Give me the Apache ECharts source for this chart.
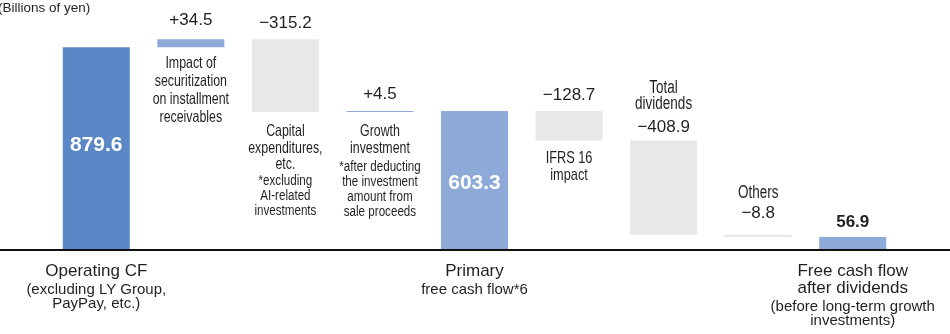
<!DOCTYPE html>
<html>
<head>
<meta charset="utf-8">
<script src="https://cdn.jsdelivr.net/npm/echarts@6/dist/echarts.min.js"></script>
<style>
  html, body { margin: 0; padding: 0; background: #fff; }
  #chart { width: 950px; height: 334px; }
</style>
</head>
<body>
<div id="chart"></div>
<script>
// Cash flow bridge, billions of yen
const categories = [
  'Operating CF',
  'Impact of securitization on installment receivables',
  'Capital expenditures, etc.',
  'Growth investment',
  'Primary free cash flow',
  'IFRS 16 impact',
  'Total dividends',
  'Others',
  'Free cash flow after dividends'
];
const values = [879.6, 34.5, -315.2, 4.5, 603.3, -128.7, -408.9, -8.8, 56.9];
const isTotal = [true, false, false, false, true, false, false, false, true];

// text drawn under a step bar
const descBelow = ['', 'Impact of\nsecuritization\non installment\nreceivables', 'Capital\nexpenditures,\netc.', 'Growth\ninvestment', '', 'IFRS 16\nimpact', '', '', ''];
const notesBelow = ['', '', '*excluding\nAI-related\ninvestments', '*after deducting\nthe investment\namount from\nsale proceeds', '', '', '', '', ''];
// text drawn above the value of a step bar
const descAbove = ['', '', '', '', '', '', 'Total\ndividends', 'Others', ''];
// category captions under the axis
const axisNames = ['Operating CF', '', '', '', 'Primary', '', '', '', 'Free cash flow\nafter dividends'];
const axisNotes = ['(excluding LY Group,\nPayPay, etc.)', '', '', '', 'free cash flow*6', '', '', '', '(before long-term growth\ninvestments)'];

const unitText = '(Billions of yen)';

const REG = "'Liberation Sans', Arial, sans-serif";
const INK = '#231f20';
const DARK_BLUE = '#5b87c6';
const LIGHT_BLUE = '#8eaad9';
const GREY = '#e8e8e8';
const NARROW_SCALE = 0.75;   // horizontal squeeze for the condensed annotation text

// waterfall: invisible base + visible step
const baseVals = [], stepVals = [];
let running = 0;
values.forEach((v, i) => {
  if (isTotal[i]) { baseVals.push(0); stepVals.push(v); running = v; }
  else if (v >= 0) { baseVals.push(running); stepVals.push(v); running += v; }
  else { running += v; baseVals.push(running); stepVals.push(-v); }
});

function valueText(i) {
  const v = values[i];
  if (isTotal[i]) return v.toFixed(1);
  return (v > 0 ? '+' : '\u2212') + Math.abs(v).toFixed(1);
}

const valueRich = {
  v: { fontFamily: REG, fontSize: 17, color: INK, lineHeight: 22 },
  big: { fontFamily: REG, fontSize: 21, fontWeight: 'bold', color: '#fff' },
  bold: { fontFamily: REG, fontSize: 17, fontWeight: 'bold', color: INK }
};

const aboveDistance = [0, 8, 5, 6, 0, 5, 2, 10.5, 6];

const stepData = stepVals.map((val, i) => {
  const total = isTotal[i];
  let color;
  if (i === 0) color = DARK_BLUE;
  else if (total || values[i] > 0) color = LIGHT_BLUE;
  else color = GREY;
  let label;
  if (total && i < categories.length - 1) {
    label = { show: true, position: 'inside', formatter: '{big|' + valueText(i) + '}', rich: valueRich,
              offset: [0, i === 0 ? -3 : 3] };
  } else if (total) {
    label = { show: true, position: 'top', distance: aboveDistance[i], formatter: '{bold|' + valueText(i) + '}', rich: valueRich };
  } else {
    label = { show: true, position: 'top', distance: aboveDistance[i], formatter: '{v|' + valueText(i) + '}', rich: valueRich };
  }
  return { value: val, itemStyle: { color }, label };
});

// condensed annotation styles (zrender rich text)
const noteRich = {
  d: { fontFamily: REG, fontSize: 16.5, fill: INK, lineHeight: 16.5 },
  d1: { fontFamily: REG, fontSize: 16.5, fill: INK, lineHeight: 18 },
  di: { fontFamily: REG, fontSize: 17, fill: INK, lineHeight: 17 },
  da: { fontFamily: REG, fontSize: 18, fill: INK, lineHeight: 16.5 },
  g: { fontFamily: REG, fontSize: 1, lineHeight: 2.5 },
  n: { fontFamily: REG, fontSize: 15.5, fill: INK, lineHeight: 15 }
};
const belowStyle = ['', 'd1', 'd', 'd', '', 'di', '', '', ''];
const noteSpacer = [false, false, false, true, false, false, false, false, false];
const belowGap = [0, 7, 11.5, 11.5, 0, 9, 0, 0, 0];
const aboveGap = [0, 0, 0, 0, 0, 0, 28, 33.5, 0];

function renderNotes(params, api) {
  const i = api.value(0);
  const bottom = api.coord([i, api.value(1)]);
  const top = api.coord([i, api.value(2)]);
  const children = [];
  if (descBelow[i]) {
    let txt = '{' + belowStyle[i] + '|' + descBelow[i] + '}';
    if (notesBelow[i]) txt += (noteSpacer[i] ? '\n{g|\u00a0}' : '') + '\n{n|' + notesBelow[i] + '}';
    children.push({
      type: 'text', x: bottom[0], y: bottom[1] + belowGap[i], scaleX: NARROW_SCALE,
      style: { text: txt, rich: noteRich, align: 'center', verticalAlign: 'top', fill: INK }
    });
  }
  if (descAbove[i]) {
    children.push({
      type: 'text', x: top[0], y: top[1] - aboveGap[i], scaleX: NARROW_SCALE,
      style: { text: '{da|' + descAbove[i] + '}', rich: noteRich, align: 'center', verticalAlign: 'bottom', fill: INK }
    });
  }
  return { type: 'group', children };
}

const chart = echarts.init(document.getElementById('chart'), null, { renderer: 'canvas' });

chart.setOption({
  animation: false,
  backgroundColor: '#fff',
  title: {
    text: unitText, left: -2, top: 1, padding: 0,
    textStyle: { fontFamily: REG, fontSize: 13.5, fontWeight: 'normal', color: INK }
  },
  grid: { left: 49, right: 50, top: 19.5, bottom: 84, containLabel: false },
  xAxis: {
    type: 'category',
    data: categories,
    axisLine: { show: false },
    axisTick: { show: false },
    axisLabel: {
      interval: 0,
      margin: 13,
      formatter: (name, idx) => {
        if (!axisNames[idx]) return '';
        return '{m|' + axisNames[idx] + '}\n{g|\u00a0}\n{s|' + axisNotes[idx] + '}';
      },
      rich: {
        m: { fontFamily: REG, fontSize: 17, color: INK, lineHeight: 17 },
        g: { fontFamily: REG, fontSize: 1, lineHeight: 2.5 },
        s: { fontFamily: REG, fontSize: 15, color: INK, lineHeight: 14 }
      }
    }
  },
  yAxis: {
    type: 'value', min: 0, max: 1000,
    show: false,
    splitLine: { show: false }
  },
  series: [
    {
      name: 'base', type: 'bar', stack: 'wf', barWidth: 67,
      itemStyle: { color: 'rgba(0,0,0,0)' },
      data: baseVals, silent: true
    },
    {
      name: 'step', type: 'bar', stack: 'wf', barWidth: 67,
      data: stepData
    },
    {
      name: 'notes', type: 'custom', silent: true, z: 5,
      renderItem: renderNotes,
      data: categories.map((c, i) => [i, baseVals[i], baseVals[i] + stepVals[i]])
    }
  ]
});

// full-width baseline at zero
const y0 = chart.convertToPixel({ yAxisIndex: 0 }, 0);
chart.setOption({
  graphic: [{
    type: 'line', z: 100,
    shape: { x1: 0, y1: y0, x2: chart.getWidth(), y2: y0 },
    style: { stroke: '#111', lineWidth: 2 }
  }]
});
</script>
</body>
</html>
